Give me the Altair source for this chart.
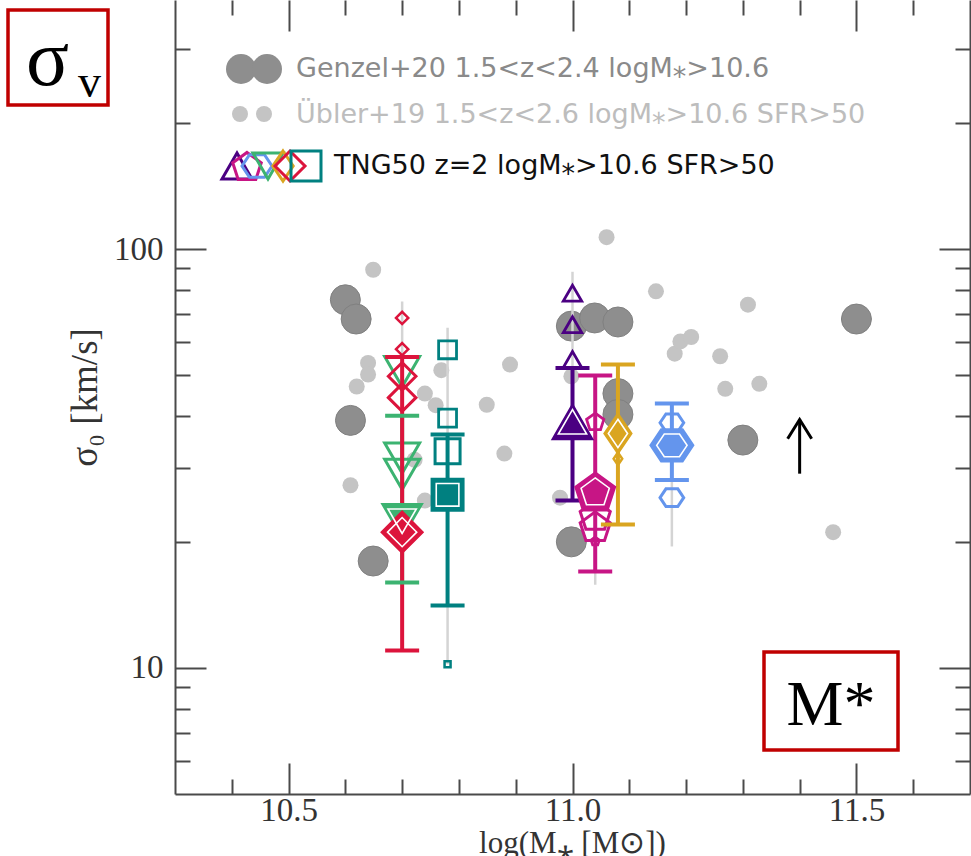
import altair as alt
import pandas as pd

# ---------------------------------------------------------------- data
# Genzel+20, 1.5<z<2.4, logM*>10.6
genzel_logm = [10.600, 10.619, 10.609, 10.649, 10.998, 11.039, 11.080, 11.080, 11.080, 10.998, 11.300, 11.500]
genzel_sigma = [75.7, 68.1, 39.0, 18.0, 65.5, 68.5, 67.0, 45.2, 40.3, 20.0, 35.0, 68.1]

# Übler+19, 1.5<z<2.6, logM*>10.6, SFR>50
ubler_logm = [10.649, 10.640, 10.640, 10.620, 10.609, 10.722, 10.740, 10.740, 10.759, 10.769,
              10.849, 10.880, 10.890, 10.978, 10.998, 11.060, 11.147, 11.180, 11.190, 11.209,
              11.260, 11.269, 11.309, 11.329, 11.459]
ubler_sigma = [89.3, 53.5, 50.2, 47.0, 27.3, 31.4, 45.2, 25.1, 42.4, 51.4,
               42.5, 32.5, 53.0, 25.5, 49.7, 106.8, 79.3, 56.3, 60.2, 61.7,
               55.5, 46.4, 73.7, 47.7, 21.1]

# TNG50 z=2 subsamples: median, 16-84th percentile and full range
tng_series = ["green", "red", "teal", "purple", "magenta", "gold", "blue"]
tng_logm = [10.70, 10.70, 10.78, 11.00, 11.04, 11.08, 11.175]
tng_median = [22.4, 21.1, 25.9, 38.7, 26.4, 36.3, 34.0]
tng_p16 = [16.0, 11.0, 14.1, 25.1, 17.0, 22.0, 28.1]
tng_p84 = [40.0, 55.3, 36.1, 52.0, 49.9, 53.0, 42.8]
tng_min = [16.0, 11.0, 10.2, 25.1, 15.8, 22.0, 19.5]
tng_max = [56.0, 75.0, 64.9, 88.3, 49.9, 53.0, 42.8]

# TNG50 individual galaxies (open symbols)
ind_series = ["green"] * 3 + ["red"] * 4 + ["teal"] * 4 + ["purple"] * 3 + ["magenta"] * 4 + ["gold"] + ["blue"] * 2
ind_sigma = [51.0, 31.7, 29.0,
             68.5, 57.7, 49.7, 44.2,
             57.5, 39.5, 32.9, 10.2,
             78.5, 66.0, 54.5,
             38.8, 23.2, 21.8, 20.1,
             31.6,
             38.5, 25.5]
ind_class = ["m", "m", "m",
             "t", "t", "m", "m",
             "s", "s", "m", "t",
             "s", "s", "s",
             "s", "m", "m", "t",
             "t",
             "m", "m"]

# lower limit arrow
arrow_logm = [11.40]
arrow_from = [29.1]
arrow_to = [39.2]

# axis ticks
x_major = [10.5, 11.0, 11.5]
x_minor = [10.4, 10.6, 10.7, 10.8, 10.9, 11.1, 11.2, 11.3, 11.4, 11.6]
y_major = [10, 100]
y_minor = [6, 7, 8, 9, 20, 30, 40, 50, 60, 70, 80, 90, 200, 300]

# ---------------------------------------------------------------- styles
PENTAGON = "M0,-0.905 L0.951,-0.214 L0.588,0.905 L-0.588,0.905 L-0.951,-0.214 Z"
HEXAGON = "M-1,0 L-0.5,-0.75 L0.5,-0.75 L1,0 L0.5,0.75 L-0.5,0.75 Z"
NARROW_DIAMOND = "M0,-1 L0.68,0 L0,1 L-0.68,0 Z"
ARROW_HEAD = "M-1,1.6 L0,0 L1,1.6"

STYLE = {
    "green":   dict(color="#3cb371", shape="triangle-down", big=1600, m=1225),
    "red":     dict(color="#dc143c", shape="diamond", big=1700, m=760, t=150),
    "teal":    dict(color="#008080", shape="square", big=1024, m=625, s=320, t=36),
    "purple":  dict(color="#4b0082", shape="triangle-up", big=1600, s=340),
    "magenta": dict(color="#c71585", shape=PENTAGON, big=1764, m=1000, s=330, t=80),
    "gold":    dict(color="#daa520", shape=NARROW_DIAMOND, big=1600, t=160),
    "blue":    dict(color="#6495ed", shape=HEXAGON, big=1849, m=560),
}
STROKE_BY_CLASS = {"t": 2.5, "s": 2.8, "m": 3.0}

AX = "#4a4a4a"
SERIF = "Liberation Serif"
SANS = "DejaVu Sans"

xs = alt.Scale(domain=[10.3, 11.7], nice=False, zero=False)
ys = alt.Scale(type="log", domain=[5, 393.5], nice=False)

# ---------------------------------------------------------------- tables
genzel_df = pd.DataFrame({"logm": genzel_logm, "sigma": genzel_sigma})
ubler_df = pd.DataFrame({"logm": ubler_logm, "sigma": ubler_sigma})

summary = pd.DataFrame({
    "series": tng_series, "logm": tng_logm, "median": tng_median,
    "p16": tng_p16, "p84": tng_p84, "lo": tng_min, "hi": tng_max,
})
summary["color"] = [STYLE[s]["color"] for s in tng_series]
summary["shape"] = [STYLE[s]["shape"] for s in tng_series]
summary["size"] = [STYLE[s]["big"] for s in tng_series]
summary["inner"] = [STYLE[s]["big"] * 0.5 for s in tng_series]

caps = pd.concat([
    summary[["logm", "color"]].assign(sigma=summary["p16"]),
    summary[["logm", "color"]].assign(sigma=summary["p84"]),
])

logm_of = dict(zip(tng_series, tng_logm))
ind_df = pd.DataFrame({"series": ind_series, "sigma": ind_sigma, "cls": ind_class})
ind_df["logm"] = [logm_of[s] for s in ind_series]
ind_df["color"] = [STYLE[s]["color"] for s in ind_series]
ind_df["shape"] = [STYLE[s]["shape"] for s in ind_series]
ind_df["size"] = [STYLE[s][c] for s, c in zip(ind_series, ind_class)]
ind_df["sw"] = [STROKE_BY_CLASS[c] for c in ind_class]

arrow_df = pd.DataFrame({"logm": arrow_logm, "y0": arrow_from, "y1": arrow_to})


def X(field="logm", axis=None):
    return alt.X(f"{field}:Q", scale=xs, axis=axis)


def Y(field, axis=None):
    return alt.Y(f"{field}:Q", scale=ys, axis=axis)


# ---------------------------------------------------------------- data layers
ubler = alt.Chart(ubler_df).mark_circle(size=256, color="#c4c4c4", opacity=1).encode(x=X(), y=Y("sigma"))
genzel = alt.Chart(genzel_df).mark_circle(
    size=900, color="#8e8e8e", opacity=1, stroke="#808080", strokeWidth=1
).encode(x=X(), y=Y("sigma"))

ranges = alt.Chart(summary).mark_rule(color="#d4d4d4", strokeWidth=2.5).encode(
    x=X(), y=Y("lo"), y2=alt.Y2("hi:Q"))

open_marks = alt.Chart(ind_df).mark_point(filled=False, opacity=1).encode(
    x=X(), y=Y("sigma"),
    shape=alt.Shape("shape:N", scale=None),
    size=alt.Size("size:Q", scale=None),
    color=alt.Color("color:N", scale=None),
    strokeWidth=alt.StrokeWidth("sw:Q", scale=None),
)

bars = alt.Chart(summary).mark_rule(strokeWidth=4).encode(
    x=X(), y=Y("p16"), y2=alt.Y2("p84:Q"), color=alt.Color("color:N", scale=None))

cap_marks = alt.Chart(caps).mark_tick(orient="horizontal", size=34, thickness=4, opacity=1).encode(
    x=X(), y=Y("sigma"), color=alt.Color("color:N", scale=None))

medians = alt.Chart(summary).mark_point(filled=True, opacity=1, strokeWidth=2).encode(
    x=X(), y=Y("median"),
    shape=alt.Shape("shape:N", scale=None),
    size=alt.Size("size:Q", scale=None),
    fill=alt.Fill("color:N", scale=None),
    stroke=alt.Stroke("color:N", scale=None),
)
medians_inner = alt.Chart(summary).mark_point(filled=False, color="white", strokeWidth=1.6, opacity=1).encode(
    x=X(), y=Y("median"),
    shape=alt.Shape("shape:N", scale=None),
    size=alt.Size("inner:Q", scale=None),
)

arrow_line = alt.Chart(arrow_df).mark_rule(color="black", strokeWidth=3).encode(
    x=X(), y=Y("y0"), y2=alt.Y2("y1:Q"))
arrow_head = alt.Chart(arrow_df).mark_point(
    shape=ARROW_HEAD, size=576, filled=False, color="black", strokeWidth=3, opacity=1
).encode(x=X(), y=Y("y1"))

# ---------------------------------------------------------------- legend
one = pd.DataFrame({"k": [0]})
leg = []
for cx in (66, 92):
    leg.append(alt.Chart(one).mark_circle(size=900, color="#8e8e8e", opacity=1).encode(
        x=alt.value(cx), y=alt.value(69)))
for cx in (65, 89):
    leg.append(alt.Chart(one).mark_circle(size=256, color="#c4c4c4", opacity=1).encode(
        x=alt.value(cx), y=alt.value(114)))
leg_order = ["purple", "magenta", "blue", "green", "gold", "red", "teal"]
leg_x = [62, 72, 82, 93, 108, 115, 131]
for s, cx in zip(leg_order, leg_x):
    leg.append(alt.Chart(one).mark_point(
        shape=STYLE[s]["shape"], size=900, filled=False, color=STYLE[s]["color"], strokeWidth=3, opacity=1
    ).encode(x=alt.value(cx), y=alt.value(166)))

LOWAST = "\u204e"
leg_text = [
    (121, 69, f"Genzel+20 1.5<z<2.4 logM{LOWAST}>10.6", "#8a8a8a"),
    (121, 115, f"Übler+19 1.5<z<2.6 logM{LOWAST}>10.6 SFR>50", "#bdbdbd"),
    (159, 166, f"TNG50 z=2 logM{LOWAST}>10.6 SFR>50", "#111111"),
]
for tx, ty, txt, col in leg_text:
    leg.append(alt.Chart(one).mark_text(
        text=txt, font=SANS, fontSize=27, align="left", baseline="middle", color=col
    ).encode(x=alt.value(tx), y=alt.value(ty)))

# ---------------------------------------------------------------- boxed labels
boxes = [
    alt.Chart(one).mark_rect(fill="white", stroke="#c00000", strokeWidth=3.5).encode(
        x=alt.value(-167), x2=alt.value(-67), y=alt.value(10), y2=alt.value(105)),
    alt.Chart(one).mark_text(text="σ", font=SERIF, fontSize=80, align="left", baseline="alphabetic",
                             color="black").encode(x=alt.value(-149), y=alt.value(85)),
    alt.Chart(one).mark_text(text="v", font=SERIF, fontSize=46, align="left", baseline="alphabetic",
                             color="black").encode(x=alt.value(-97), y=alt.value(97)),
    alt.Chart(one).mark_rect(fill="white", stroke="#c00000", strokeWidth=3.5).encode(
        x=alt.value(589), x2=alt.value(723), y=alt.value(652), y2=alt.value(750)),
    alt.Chart(one).mark_text(text="M*", font=SERIF, fontSize=64, align="center", baseline="alphabetic",
                             color="black").encode(x=alt.value(656), y=alt.value(725)),
]

# ---------------------------------------------------------------- axes
anchor = pd.DataFrame({"logm": [11.0], "sigma": [10.0]})


def ticks(values, orient, length):
    return alt.Axis(values=values, orient=orient, offset=-length, tickSize=length, tickWidth=2,
                    tickColor=AX, labels=False, domain=False, grid=False, title=None)


def carrier(xaxis, yaxis):
    return alt.Chart(anchor).mark_point(opacity=0).encode(x=X(axis=xaxis), y=Y("sigma", axis=yaxis))


axis_layers = [
    carrier(ticks(x_major, "bottom", 31), ticks(y_major, "left", 31)),
    carrier(ticks(x_minor, "bottom", 15), ticks(y_minor, "left", 15)),
    carrier(ticks(x_major, "top", 31), ticks(y_major, "right", 31)),
    carrier(ticks(x_minor, "top", 15), ticks(y_minor, "right", 15)),
    carrier(
        alt.Axis(values=x_major, orient="bottom", format=".1f", ticks=False, domain=True,
                 domainColor=AX, domainWidth=2, grid=False, labelFont=SERIF, labelFontSize=33,
                 labelColor="#333", labelBaseline="alphabetic", labelPadding=26,
                 title=f"log(M{LOWAST} [M⊙])", titleFont=SERIF, titleFontSize=31,
                 titleFontWeight="normal", titleColor="#333", titleX=397, titleY=58,
                 titleBaseline="alphabetic", titleAlign="center"),
        alt.Axis(values=y_major, orient="left", format="d", ticks=False, domain=True,
                 domainColor=AX, domainWidth=2, grid=False, labelFont=SERIF, labelFontSize=33,
                 labelColor="#333", labelPadding=12,
                 title="σ₀ [km/s]", titleFont=SERIF, titleFontSize=37, titleFontWeight="normal",
                 titleColor="#333", titleX=-90, titleY=397, titleAngle=270,
                 titleAlign="center", titleBaseline="middle"),
    ),
    carrier(None, alt.Axis(orient="right", ticks=False, labels=False, domain=True, domainColor=AX,
                           domainWidth=2, grid=False, title=None)),
]

layers = axis_layers + [
    ubler, genzel, ranges, open_marks, bars, cap_marks, medians, medians_inner,
    arrow_line, arrow_head,
] + leg + boxes

chart = alt.layer(*layers).resolve_axis(x="independent", y="independent").properties(
    width=795, height=794,
    padding={"left": 175, "top": 0, "right": 1, "bottom": 62},
    autosize=alt.AutoSizeParams(type="none"),
    background="white",
).configure_view(stroke=None)

chart.save("out.html", embed_options={"renderer": "svg", "actions": False})
